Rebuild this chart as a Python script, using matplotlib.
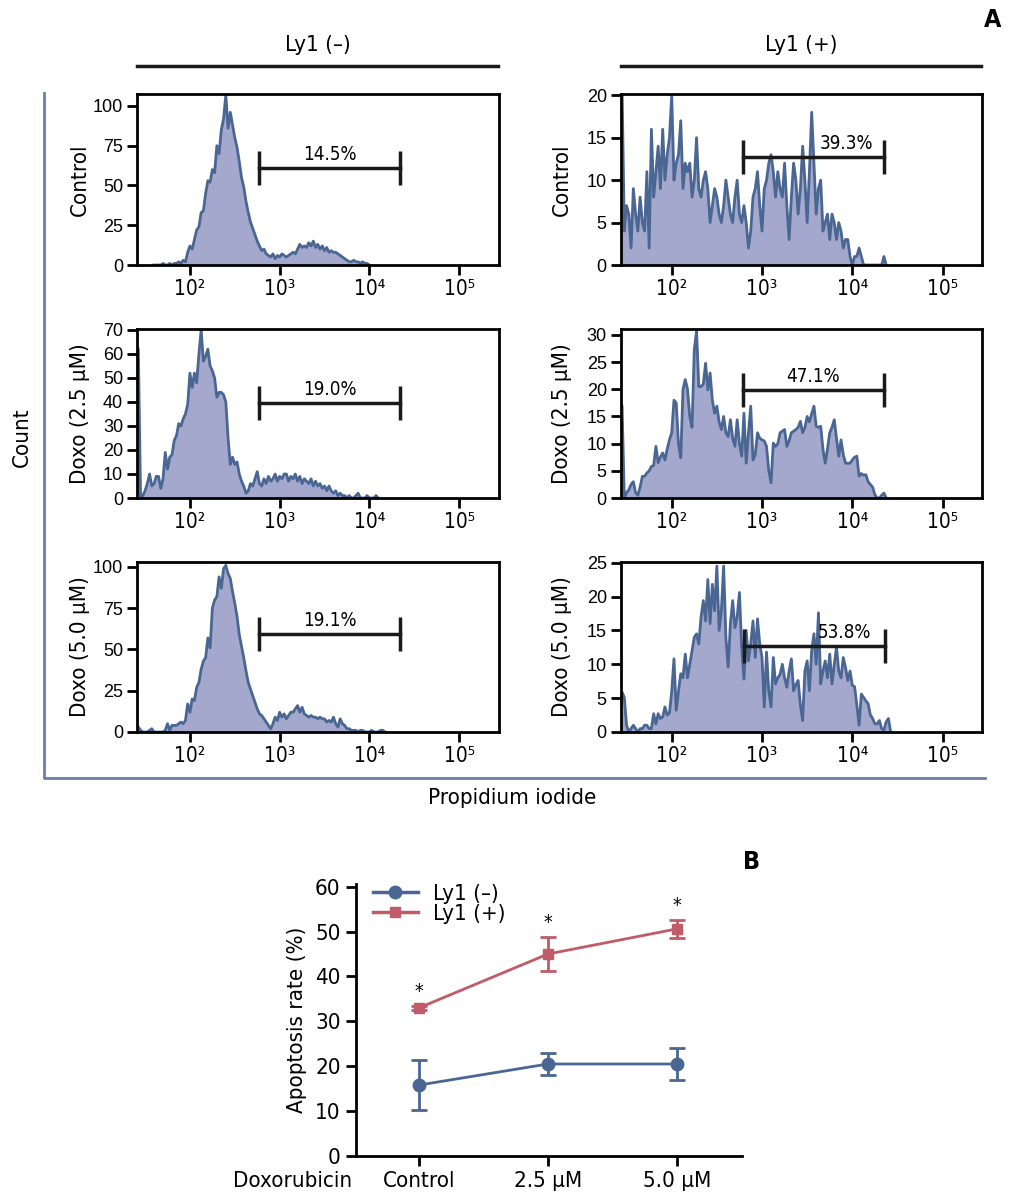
import numpy as np
import matplotlib
matplotlib.use("Agg")
import matplotlib.pyplot as plt
from matplotlib import font_manager as fm
from matplotlib.lines import Line2D

names = {f.name for f in fm.fontManager.ttflist}
if "Liberation Sans Narrow" in names:
    COND, STRETCH = "Liberation Sans Narrow", "normal"
else:
    COND, STRETCH = "DejaVu Sans", "condensed"
NORM = "Liberation Sans"
plt.rcParams["font.family"] = [COND, "DejaVu Sans"]
plt.rcParams["font.stretch"] = STRETCH

# ---- panel A data: counts per channel, channel step 0.025 in log10(PI) ----
STEP = 0.025
neg_ctrl_start = 1.60
neg_ctrl = [0, 0, 0, 0, 1, 0, 0, 1, 0, 1, 1, 2, 1, 3, 2,
            8, 12, 10, 16, 22, 24, 33, 34, 45, 53, 52, 60, 58, 75, 70, 85, 92, 107,
            86, 96, 88, 80, 74, 65, 55, 49, 40, 33, 27, 23, 19, 15, 12, 9, 10, 7, 6, 5,
            7, 4, 6, 5, 7, 6, 5, 6, 7, 8, 7, 10, 13, 11, 12, 11, 14, 12, 15, 11, 13, 10,
            12, 9, 11, 8, 9, 8, 8, 7, 6, 5, 4, 3, 2, 2, 3, 2, 2, 1, 2, 1, 1, 0]

neg_d25_start = 1.40
neg_d25 = [64, 62, 0, 1, 3, 6, 10, 5, 6, 9, 9, 4, 8, 19, 12, 17, 18, 24, 26, 31, 30,
           33, 35, 39, 52, 46, 52, 48, 60, 70, 57, 59, 62, 55, 53, 50, 42, 44, 44, 43,
           40, 25, 14, 17, 14, 15, 10, 7, 5, 2, 3, 6, 5, 8, 11, 6, 5, 8, 6, 9, 7, 8,
           10, 7, 9, 8, 10, 10, 7, 9, 8, 10, 7, 9, 6, 8, 7, 6, 8, 5, 7, 5, 6, 4, 5, 3,
           5, 3, 2, 3, 1, 2, 1, 1, 0, 1, 0, 0, 1, 2, 0, 0, 0, 1, 0, 0, 0, 1, 0]

neg_d50_start = 1.40
neg_d50 = [2, 3, 1, 0, 0, 0, 1, 2, 0, 0, 0, 0, 0, 1, 5, 1, 4, 4, 4, 5, 6, 5, 7, 17,
           12, 20, 19, 27, 30, 38, 43, 45, 57, 51, 75, 80, 82, 94, 87, 99, 101, 96, 93,
           85, 78, 70, 59, 52, 45, 37, 30, 26, 22, 18, 14, 11, 10, 8, 6, 4, 2, 5, 9, 7,
           12, 9, 11, 8, 10, 12, 12, 14, 16, 12, 15, 11, 10, 9, 10, 9, 9, 8, 9, 8, 8, 6,
           7, 6, 9, 5, 3, 8, 5, 4, 2, 2, 1, 1, 1, 0, 1, 1, 0, 0, 0, 1, 0, 0, 0, 1, 1, 0]

pos_ctrl_start = 1.425
pos_ctrl = [21, 21, 4, 7, 6, 2, 9, 6, 4, 8, 5, 4, 11, 2, 16, 8, 11, 14, 9, 16, 10, 13,
            15, 20, 10, 12, 13, 17, 9, 12, 11, 12, 8, 10, 15, 9, 8, 10, 11, 9, 5, 7, 9,
            8, 6, 5, 7, 10, 8, 6, 5, 8, 10, 6, 5, 7, 5, 2, 4, 8, 9, 11, 7, 4, 9, 10, 12,
            13, 11, 8, 11, 9, 8, 12, 7, 3, 8, 12, 10, 6, 9, 14, 10, 5, 11, 18, 12, 6, 9,
            10, 4, 5, 6, 3, 6, 5, 3, 5, 4, 2, 3, 3, 1, 0, 1, 1, 2, 1, 0, 0, 0, 0, 0, 0,
            0, 0, 0, 1, 0]

pos_d25_start = 1.425
pos_d25 = [17, 17, 0, 1, 1.5, 2.5, 3, 1, 0.5, 2, 4, 4, 4.6, 5, 5.8, 6, 9.5, 6.5, 7.5,
           8.3, 7, 9, 10.7, 12, 18, 17.5, 10, 7.4, 20, 21.8, 20, 15, 13, 27.3, 30.7,
           20.5, 20.5, 21, 24.8, 19.9, 23, 18, 15.6, 16.9, 14, 12.6, 15, 12, 11.3, 14.4,
           11, 9.5, 14.4, 10, 7.7, 15.6, 6.4, 12, 16.9, 7, 8, 12, 11, 10.7, 10.5, 9.5,
           5, 2.8, 10.1, 9.5, 10, 12, 12.3, 12.6, 9.5, 10.5, 12, 12.3, 12.6, 13, 14.1,
           12, 13, 15, 14, 15.5, 16.9, 13.2, 13, 13.2, 9, 6.4, 9, 12, 13, 14.4, 11, 7.7,
           10.7, 8, 6.4, 6.4, 6.4, 7, 7.5, 7.7, 4, 4.5, 4.2, 4.3, 3, 2.5, 2, 0.6, 0, 0,
           0.5, 0.9, 0]

pos_d50_start = 1.425
pos_d50 = [6, 5.9, 5.1, 1, 0, 0.5, 1, 0.5, 0, 0.5, 0.5, 1, 1, 0.5, 0.5, 2.7, 1.2, 2.7,
           2, 2.2, 3.7, 2.5, 2.8, 6, 10.8, 3.2, 6, 8.6, 8, 11.5, 8, 10, 12, 14, 14.5, 13,
           17, 19.4, 16.4, 22.5, 16, 21.8, 17.9, 24.5, 15, 18, 24.5, 14, 9.6, 16, 19.4,
           15.4, 17, 20.6, 12.5, 7.8, 15, 10.5, 13, 16.4, 11, 16.7, 13, 11, 3.7, 11.8, 6,
           3.7, 11, 7.1, 8, 8.5, 10, 8, 6.6, 9, 10.8, 6.1, 7, 7.6, 4, 1.7, 9, 10.5, 6.1,
           12, 14.5, 10, 17.6, 7.1, 9, 10.5, 8, 11.5, 7.1, 10, 12.5, 9, 8, 11, 9.5, 7.6,
           9, 6.9, 6.7, 4, 1, 5.6, 5.1, 4.6, 4.2, 2.5, 2, 1.2, 1.2, 1.7, 0.5, 0.3, 1.5,
           2, 0]

row_names = ["Control", "Doxo (2.5 \u03bcM)", "Doxo (5.0 \u03bcM)"]
col_names = ["Ly1 (\u2013)", "Ly1 (+)"]
hist_data = [[(neg_ctrl_start, neg_ctrl), (pos_ctrl_start, pos_ctrl)],
             [(neg_d25_start, neg_d25), (pos_d25_start, pos_d25)],
             [(neg_d50_start, neg_d50), (pos_d50_start, pos_d50)]]
gate_pct = [["14.5%", "39.3%"], ["19.0%", "47.1%"], ["19.1%", "53.8%"]]
# gate: (log start, log end, height)
gates = [[(2.77, 4.34, 61), (2.786, 4.35, 12.7)],
         [(2.77, 4.34, 39.6), (2.786, 4.35, 19.8)],
         [(2.77, 4.34, 59.4), (2.80, 4.365, 12.7)]]
gate_text_x = [[3.56, 3.94], [3.56, 3.57], [3.56, 3.91]]
y_limits = [[107.5, 20.15], [70.4, 31.1], [103, 25.1]]
y_ticks = [[[0, 25, 50, 75, 100], [0, 5, 10, 15, 20]],
           [list(range(0, 71, 10)), list(range(0, 31, 5))],
           [[0, 25, 50, 75, 100], list(range(0, 26, 5))]]
x_limits = [(1.41, 5.445), (1.435, 5.433)]
x_tick_labels = ["10\u00b2", "10\u00b3", "10\u2074", "10\u2075"]

# ---- panel B data ----
doses = ["Control", "2.5 \u03bcM", "5.0 \u03bcM"]
neg_rate = [15.8, 20.5, 20.5]
neg_err = [5.6, 2.35, 3.55]
pos_rate = [33.0, 45.0, 50.6]
pos_err = [0.4, 3.8, 2.05]
star_y = [36.6, 52.0, 55.9]

LINE = "#4a6692"
FILL = "#a4a8cd"
RED = "#c05b67"
FRAME = "#6b80a4"

W, H = 1010, 1202
fig = plt.figure(figsize=(W / 100, H / 100), dpi=100)


def fx(x):
    return x / W


def fy(y):
    return 1 - y / H


rows_px = [(94, 265), (329, 498), (562, 732)]
cols_px = [(137, 499), (620.7, 981.7)]
ylab_x = [80, 562]

for r in range(3):
    for c in range(2):
        (x0, x1), (yt, yb) = cols_px[c], rows_px[r]
        ax = fig.add_axes([fx(x0), fy(yb), (x1 - x0) / W, (yb - yt) / H])
        start, counts = hist_data[r][c]
        counts = np.array(counts, dtype=float)
        xs = 10 ** (start + STEP * np.arange(len(counts)))
        ax.fill_between(xs, counts, color=FILL, lw=0)
        ax.plot(xs, counts, color=LINE, lw=2)
        ax.set_xscale("log")
        ax.set_xlim(10 ** x_limits[c][0], 10 ** x_limits[c][1])
        ax.set_ylim(0, y_limits[r][c])
        ax.set_xticks([1e2, 1e3, 1e4, 1e5])
        ax.set_xticklabels(x_tick_labels, fontsize=15)
        ax.minorticks_off()
        ax.set_yticks(y_ticks[r][c])
        ax.set_yticklabels([str(v) for v in y_ticks[r][c]], family=NORM,
                           stretch="normal", fontsize=13)
        ax.tick_params(direction="out", length=7, width=2, pad=3)
        for s in ax.spines.values():
            s.set_linewidth(2)
        g0, g1, gy = gates[r][c]
        ax.plot([10 ** g0, 10 ** g1], [gy, gy], color="#1a1a1a", lw=2.5)
        ax.plot([10 ** g0, 10 ** g1], [gy, gy], ls="", marker="|", ms=25, mew=2.5,
                color="#1a1a1a")
        ax.annotate(gate_pct[r][c], (10 ** gate_text_x[r][c], gy), xytext=(0, 3),
                    textcoords="offset points", ha="center", va="bottom", fontsize=13.5)
        fig.text(fx(ylab_x[c]), fy((yt + yb) / 2), row_names[r], rotation=90,
                 ha="center", va="center", fontsize=16)

# column headers
for c in range(2):
    x0, x1 = cols_px[c]
    fig.text(fx((x0 + x1) / 2), fy(45), col_names[c], ha="center", va="center", fontsize=16)
    fig.add_artist(Line2D([fx(x0), fx(x1 - 1)], [fy(66), fy(66)], color="#1a1a1a", lw=2.5))

# L-shaped frame of panel A
fig.add_artist(Line2D([fx(44), fx(44), fx(985)], [fy(93), fy(778), fy(778)],
                      color=FRAME, lw=2))
fig.text(fx(22), fy(437), "Count", rotation=90, ha="center", va="center", fontsize=16)
fig.text(fx(512), fy(798), "Propidium iodide", ha="center", va="center", fontsize=16)
fig.text(fx(993), fy(20), "A", ha="center", va="center", fontsize=18, weight="bold")
fig.text(fx(752), fy(862), "B", ha="center", va="center", fontsize=18, weight="bold")

# ---- panel B ----
axb = fig.add_axes([fx(356), fy(1156), 386 / W, 272 / H])
xpos = np.arange(len(doses))
axb.errorbar(xpos, neg_rate, yerr=neg_err, fmt="-o", color=LINE, lw=2, ms=9,
             capsize=6, capthick=2, elinewidth=2)
axb.errorbar(xpos, pos_rate, yerr=pos_err, fmt="-s", color=RED, lw=2, ms=7,
             capsize=6, capthick=2, elinewidth=2)
for xi, sy in zip(xpos, star_y):
    axb.text(xi, sy, "*", ha="center", va="center", fontsize=14)
axb.set_xlim(-0.488, 2.504)
axb.set_ylim(0, 60.6)
axb.set_yticks(range(0, 61, 10))
axb.set_xticks(xpos)
axb.set_xticklabels(doses)
axb.tick_params(direction="out", length=7, width=2, labelsize=16, pad=4)
for s in ["top", "right"]:
    axb.spines[s].set_visible(False)
for s in ["left", "bottom"]:
    axb.spines[s].set_linewidth(2)
axb.set_ylabel("Apoptosis rate (%)", fontsize=16, labelpad=6)
fig.text(fx(352), fy(1181), "Doxorubicin", ha="right", va="center", fontsize=16)
handles = [Line2D([], [], color=LINE, marker="o", ms=9, lw=2.5),
           Line2D([], [], color=RED, marker="s", ms=7, lw=2.5)]
axb.legend(handles, col_names, loc="upper left", bbox_to_anchor=(0.01, 1.05),
           frameon=False, fontsize=16, handlelength=2.0, handletextpad=0.7,
           borderaxespad=0.2, labelspacing=0.0)

fig.savefig("out.png", dpi=100)
